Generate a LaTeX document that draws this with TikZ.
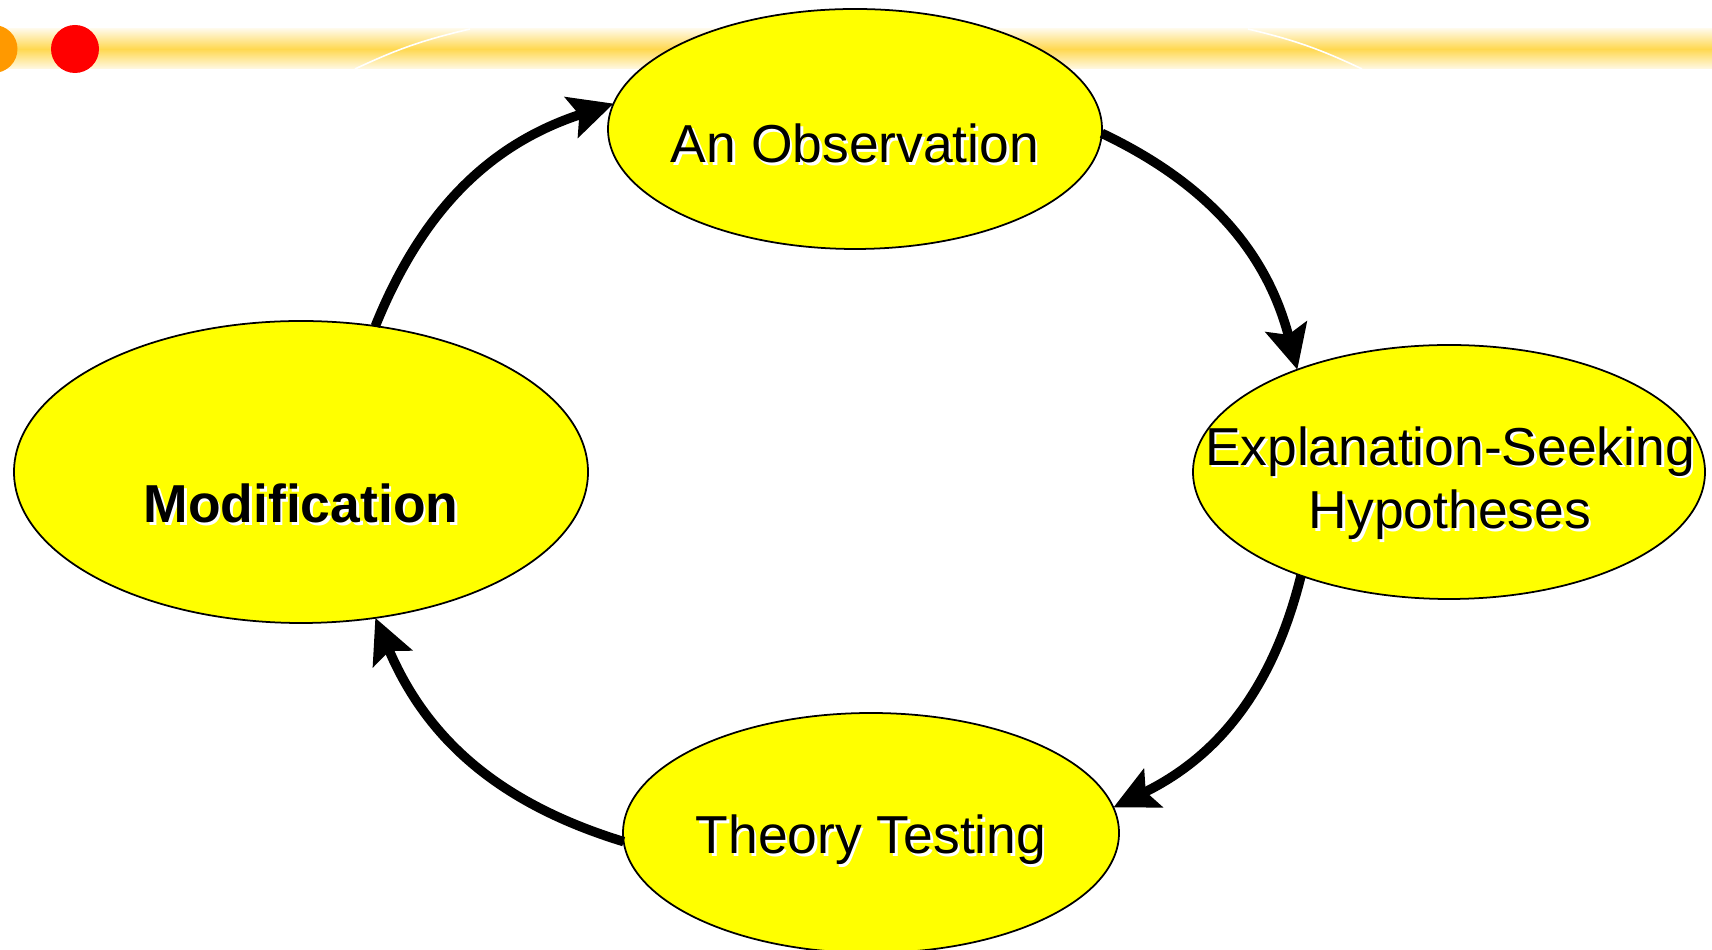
\documentclass[tikz,border=0pt]{standalone}
\usepackage{fontspec}
\setmainfont{Liberation Sans}
\usetikzlibrary{arrows.meta,shapes.geometric}
\definecolor{barmid}{RGB}{255,216,80}
\definecolor{baredge}{RGB}{255,249,230}
\definecolor{dotorange}{RGB}{255,153,0}
\definecolor{bubblefill}{RGB}{255,255,0}
\newcommand{\shtxt}[1]{\leavevmode\rlap{\kern0.25mm\raisebox{-0.25mm}{\color{white}#1}}#1}

\begin{document}
\begin{tikzpicture}[
		bubble/.style={ellipse, draw=black, line width=0.5pt, fill=bubblefill, inner sep=0pt, outer sep=0pt},
		caption/.style={anchor=base, align=center, font=\fontsize{15.2}{18.2}\selectfont},
		cycle/.style={line width=0.95mm, -{Stealth[length=4.4mm, width=4.2mm, inset=0.8mm]}, bend left=25},
		swoosh/.style={white, line width=0.45pt}]
			%%%%% START %%%%%
			
			\useasboundingbox (0, 0) rectangle (17.12, 9.5);
			
			\shade[top color=baredge, bottom color=baredge, middle color=barmid] (0, 8.81) rectangle (17.12, 9.21);
			\draw[swoosh] (3.55, 8.81) to[bend left=6] (4.70, 9.21);
			\draw[swoosh] (12.48, 9.21) to[bend left=6] (13.62, 8.81);
			
			\fill[dotorange] (-0.065, 9.01) circle (0.24);
			\fill[red] (0.75, 9.01) circle (0.24);
			
			\node[bubble, minimum width=4.94cm, minimum height=2.40cm] (obs) at (8.55, 8.21) {};
			\node[bubble, minimum width=5.12cm, minimum height=2.54cm] (hyp) at (14.49, 4.78) {};
			\node[bubble, minimum width=5.74cm, minimum height=3.02cm] (mod) at (3.01, 4.78) {};
			\node[bubble, minimum width=4.96cm, minimum height=2.40cm] (test) at (8.71, 1.17) {};
			
			\node[caption] (obs-t) at (8.55, 7.87) {\shtxt{An Observation}};
			\node[caption] (hyp-t) at (14.50, 4.21) {\shtxt{Explanation-Seeking}\\\shtxt{Hypotheses}};
			\node[caption] (mod-t) at (3.01, 4.27) {\shtxt{\textbf{Modification}}};
			\node[caption] (test-t) at (8.71, 0.96) {\shtxt{Theory Testing}};
			
			\draw[cycle] (obs.-1) to (hyp.146);
			\draw[cycle] (hyp.215) to (test.6);
			\draw[cycle] (test.182) to (mod.297);
			\draw[cycle] (mod.63) to (obs.174);
			
			%%%%% END %%%%%
\end{tikzpicture}
\end{document}
